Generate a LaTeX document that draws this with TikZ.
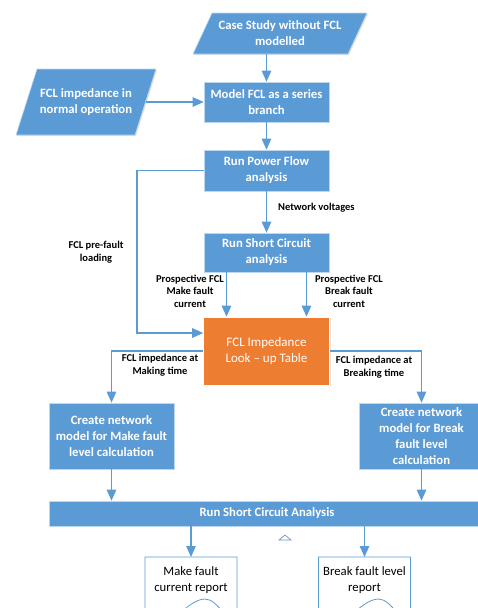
\documentclass[tikz,border=0pt]{standalone}
\usepackage{fontspec}
\setmainfont{Carlito}
\usetikzlibrary{arrows.meta,shadows,calc}
\definecolor{boxblue}{HTML}{5B9BD5}
\definecolor{boxorange}{HTML}{ED7D31}
\definecolor{lineblue}{HTML}{5B9BD5}
\definecolor{edgeblue}{HTML}{BDD7EE}
\definecolor{tricol}{HTML}{6F94C8}
\tikzset{
  shad/.style={drop shadow={shadow xshift=1pt,shadow yshift=-1pt,opacity=0.22}},
  proc/.style={rectangle, fill=boxblue, draw=edgeblue, line width=0.6pt, text=white,
    font=\fontsize{12.7}{16}\selectfont\bfseries, align=center, inner sep=2pt, shad},
  orangebox/.style={rectangle, fill=boxorange, draw=white, line width=0.6pt, text=white,
    font=\fontsize{13}{16}\selectfont, align=center, inner sep=2pt, shad},
  paratext/.style={rectangle, text=white, font=\fontsize{12.7}{16}\selectfont\bfseries,
    align=center, inner sep=0pt},
  parashape/.style={fill=boxblue, draw=edgeblue, line width=0.6pt, shad},
  lab/.style={font=\fontsize{10.5}{12.5}\selectfont\bfseries, align=center, inner sep=0pt, text=black},
  doctext/.style={rectangle, text=black, font=\fontsize{12.7}{16}\selectfont, align=center, inner sep=0pt},
  docshape/.style={fill=white, draw=lineblue, line width=0.8pt},
  conn/.style={draw=lineblue, line width=1.1pt, -{Triangle[width=9.5pt,length=11pt]}},
}
\begin{document}
\begin{tikzpicture}[x=1pt,y=-1pt]
\useasboundingbox (0,0) rectangle (478,608);
\clip (0,0) rectangle (478,608);

% parallelograms
\path[parashape] (193,54) -- (212,13) -- (367,13) -- (348,54) -- cycle;
\node[paratext, minimum width=150pt, minimum height=41pt] (top) at (280,33.5) {Case Study without FCL\\modelled};
\path[parashape] (16,135) -- (37,69) -- (156,69) -- (135,135) -- cycle;
\node[paratext, minimum width=119pt, minimum height=66pt] (lp) at (86,102) {FCL impedance in\\normal operation};

% process boxes
\node[proc, minimum width=125pt, minimum height=40pt] (model) at (266.5,102) {Model FCL as a series\\branch};
\node[proc, minimum width=125pt, minimum height=41pt] (pf) at (266.5,170.5) {Run Power Flow\\analysis};
\node[proc, minimum width=125pt, minimum height=39pt] (sc) at (266.5,252.5) {Run Short Circuit\\analysis};
\node[orangebox, minimum width=126pt, minimum height=68pt] (fcl) at (266.5,351) {FCL Impedance\\Look -- up Table};
\node[proc, minimum width=125pt, minimum height=66pt] (mk) at (111.5,436) {Create network\\model for Make fault\\level calculation};
\node[proc, minimum width=125pt, minimum height=66pt] (bk) at (421.5,436) {Create network\\model for Break\\fault level\\calculation};
\node[proc, minimum width=436pt, minimum height=25pt] (bar) at (267,513.5) {Run Short Circuit Analysis};

% documents
\path[docshape] (145,615) -- (145,557) -- (237,557) -- (237,630)
  .. controls (230,625) and (218,599) .. (205,599)
  .. controls (185,599) and (165,640) .. (145,615);
\node[doctext, minimum width=92pt, minimum height=46pt, anchor=north] (d1) at (191,557) {Make fault\\current report};
\begin{scope}[shift={(173.5,0)}]
\path[docshape] (145,615) -- (145,557) -- (237,557) -- (237,630)
  .. controls (230,625) and (218,599) .. (205,599)
  .. controls (185,599) and (165,640) .. (145,615);
\end{scope}
\node[doctext, minimum width=92pt, minimum height=46pt, anchor=north] (d2) at (364.5,557) {Break fault level\\report};

% small triangle mark
\draw[draw=tricol, fill=white, line width=0.7pt] (279,540) -- (285,535) -- (291,540) -- cycle;

% labels
\node[lab, anchor=west] (nv) at (278,208) {Network voltages};
\node[lab] (pfl) at (96,252) {FCL pre-fault\\loading};
\node[lab] (pm) at (190,291) {Prospective FCL\\Make fault\\current};
\node[lab] (pb) at (349,291) {Prospective FCL\\Break fault\\current};
\node[lab] (im) at (160,365) {FCL impedance at\\Making time};
\node[lab] (ib) at (374,367) {FCL impedance at\\Breaking time};

% connectors
\coordinate (bend) at (137,170.5);
\draw[conn] (model.north |- top.south) -- (model.north);
\draw[conn] (lp.east) -- (model.west);
\draw[conn] (model) -- (pf);
\draw[conn] (pf) -- (sc);
\draw[conn] (pf.west) -- (bend) |- ([yshift=18pt]fcl.west);
\draw[conn] ([xshift=-40pt]sc.south) -- ([xshift=-40pt]fcl.north);
\draw[conn] ([xshift=40pt]sc.south) -- ([xshift=40pt]fcl.north);
\draw[conn] (fcl.west) -| (mk.north);
\draw[conn] (fcl.east) -| (bk.north);
\draw[conn] (mk.south) -- (mk.south |- bar.north);
\draw[conn] (bk.south) -- (bk.south |- bar.north);
\draw[conn] (d1.north |- bar.south) -- (d1.north);
\draw[conn] (d2.north |- bar.south) -- (d2.north);
\end{tikzpicture}
\end{document}
